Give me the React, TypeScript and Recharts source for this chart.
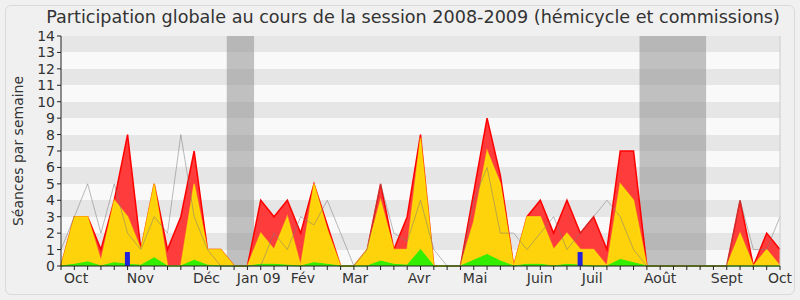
import {
  ComposedChart,
  Area,
  Line,
  Bar,
  XAxis,
  YAxis,
  CartesianGrid,
  ReferenceArea,
  ReferenceLine,
} from "recharts"

// one point per week, session 2008-2009
const weeks = [
  0, 1, 2, 3, 4, 5, 6, 7, 8, 9, 10, 11, 12, 13, 14, 15, 16, 17, 18, 19, 20, 21, 22, 23, 24, 25, 26, 27,
  28, 29, 30, 31, 32, 33, 34, 35, 36, 37, 38, 39, 40, 41, 42, 43, 44, 45, 46, 47, 48, 49, 50, 51, 52, 53, 54,
]

const presence = [
  0, 3, 3, 1, 4, 8, 1, 5, 1, 3, 7, 1, 1, 0, 0, 4, 3, 4, 2, 5, 2.5, 0, 0, 1, 5, 1, 3, 8,
  0, 0, 0, 4.5, 9, 5.5, 0, 3, 4, 2, 4, 2, 3, 1, 7, 7, 0, 0, 0, 0, 0, 0, 0, 4, 0, 2, 1,
]

const hemicycle = [
  0, 3, 3, 0.3, 4, 3, 1, 5, 0, 0, 5, 1, 1, 0, 0, 2, 1, 3, 0, 5, 2.2, 0, 0, 1, 4, 1, 1, 7.8,
  0, 0, 0, 2.7, 7, 5, 0, 3, 3, 1, 2, 1, 1, 0, 5, 4, 0, 0, 0, 0, 0, 0, 0, 2, 0, 1, 0,
]

const interventions = [
  0, 0.1, 0.25, 0, 0.2, 0.1, 0.05, 0.5, 0, 0, 0.35, 0.05, 0, 0, 0, 0.1, 0.1, 0.05, 0, 0.2, 0.1, 0, 0, 0, 0.3, 0.1, 0.05, 1,
  0, 0, 0, 0.35, 0.7, 0.3, 0, 0.1, 0.1, 0, 0.1, 0.05, 0, 0, 0.4, 0.2, 0, 0, 0, 0, 0, 0, 0, 0, 0, 0, 0,
]

const mediane = [
  1, 3, 5, 2, 5, 2, 1, 3, 2, 8, 3, 1, 0, 0, 0, 0, 2, 1, 3, 2.5, 4, 2, 0, 1, 5, 2, 1.5, 4,
  1, 0, 0, 4, 6, 2, 2, 1, 2, 3, 1, 2, 3, 4, 3, 1, 0, 0, 0, 0, 0, 0, 0, 4, 1, 1, 3,
]

const questions = [
  null, null, null, null, null, 0.85, null, null, null, null, null, null, null, null, null, null, null, null, null, null, null, null, null, null, null, null, null, null,
  null, null, null, null, null, null, null, null, null, null, null, 0.85, null, null, null, null, null, null, null, null, null, null, null, null, null, null, null,
]

const monthTicks = [1.13, 5.97, 10.93, 14.85, 18.17, 22.09, 26.9, 31.1, 35.95, 39.9, 45, 50, 54]
const monthLabels = ["Oct", "Nov", "Déc", "Jan 09", "Fév", "Mar", "Avr", "Mai", "Juin", "Juil", "Août", "Sept", "Oct"]

const yTicks = [0, 1, 2, 3, 4, 5, 6, 7, 8, 9, 10, 11, 12, 13, 14]

// vacances parlementaires
const breaks = [
  [12.45, 14.5],
  [43.45, 48.45],
]

const data = weeks.map((w, i) => ({
  w,
  presence: presence[i],
  hemicycle: hemicycle[i],
  interventions: interventions[i],
  mediane: mediane[i],
  questions: questions[i],
}))

const font = "'DejaVu Sans', Verdana, sans-serif"

export default function App() {
  return (
    <div
      style={{
        position: "absolute",
        left: 0,
        top: 0,
        width: 800,
        height: 300,
        background: "#f0f0f0",
        fontFamily: font,
        color: "#333",
      }}
    >
      <div
        style={{
          position: "absolute",
          left: 5,
          top: 5,
          width: 788,
          height: 288,
          border: "1px solid #d9d9d9",
          borderRadius: 6,
        }}
      />
      <div
        style={{
          position: "absolute",
          left: 0,
          top: 7,
          width: 826,
          textAlign: "center",
          fontSize: 17.6,
          whiteSpace: "nowrap",
        }}
      >
        Participation globale au cours de la session 2008-2009 (hémicycle et commissions)
      </div>
      <div
        style={{
          position: "absolute",
          left: 18 - 100,
          top: 151 - 10,
          width: 200,
          height: 20,
          lineHeight: "20px",
          textAlign: "center",
          fontSize: 14,
          transform: "rotate(-90deg)",
          whiteSpace: "nowrap",
        }}
      >
        Séances par semaine
      </div>

      <ComposedChart
        width={800}
        height={300}
        data={data}
        margin={{ top: 36, right: 20, bottom: 0, left: 0 }}
        style={{ position: "absolute", left: 0, top: 0, fontFamily: font }}
      >
        <CartesianGrid
          xAxisId="a"
          vertical={false}
          stroke="transparent"
          horizontalFill={["#e6e6e6", "#f9f9f9"]}
        />

        <XAxis
          xAxisId="a"
          dataKey="w"
          type="number"
          domain={[0, 54]}
          ticks={weeks}
          interval={0}
          height={5}
          tickSize={4}
          tickFormatter={() => ""}
          axisLine={{ stroke: "#222" }}
          tickLine={{ stroke: "#222" }}
        />
        <XAxis
          xAxisId="b"
          dataKey="w"
          type="number"
          domain={[0, 54]}
          ticks={monthTicks}
          interval={0}
          height={29}
          tickSize={0}
          axisLine={false}
          tickLine={false}
          tickFormatter={(v) => monthLabels[monthTicks.indexOf(v)] ?? ""}
          tick={{ fontSize: 14, fill: "#333" }}
        />
        <XAxis
          xAxisId="t"
          orientation="top"
          dataKey="w"
          type="number"
          domain={[0, 54]}
          ticks={weeks}
          interval={0}
          height={0}
          tickSize={2}
          axisLine={false}
          tickLine={{ stroke: "#222" }}
          tickFormatter={() => ""}
        />
        <YAxis
          domain={[0, 14]}
          ticks={yTicks}
          interval={0}
          width={61}
          tickSize={4}
          axisLine={{ stroke: "#222" }}
          tickLine={{ stroke: "#222" }}
          tick={{ fontSize: 14, fill: "#333" }}
        />

        {breaks.map(([a, b], i) => (
          <ReferenceArea
            key={i}
            xAxisId="a"
            x1={a}
            x2={b}
            y1={0}
            y2={14}
            fill="#888888"
            fillOpacity={0.5}
            stroke="none"
          />
        ))}

        <Area
          xAxisId="a"
          dataKey="presence"
          type="linear"
          stroke="#ff0000"
          strokeWidth={1.5}
          fill="#ff3c3c"
          fillOpacity={1}
          dot={false}
          activeDot={false}
          isAnimationActive={false}
        />
        <Area
          xAxisId="a"
          dataKey="hemicycle"
          type="linear"
          stroke="#ffee00"
          strokeOpacity={0.6}
          strokeWidth={1.5}
          fill="#ffd30b"
          fillOpacity={1}
          dot={false}
          activeDot={false}
          isAnimationActive={false}
        />
        <Area
          xAxisId="a"
          dataKey="interventions"
          type="linear"
          stroke="#33ee00"
          strokeWidth={1}
          fill="#33ee00"
          fillOpacity={1}
          dot={false}
          activeDot={false}
          isAnimationActive={false}
        />
        <Line
          xAxisId="a"
          dataKey="mediane"
          type="linear"
          stroke="#777777"
          strokeOpacity={0.5}
          strokeWidth={1}
          dot={false}
          activeDot={false}
          isAnimationActive={false}
        />
        <Bar
          xAxisId="a"
          dataKey="questions"
          fill="#2222dd"
          barSize={5}
          isAnimationActive={false}
        />
        <ReferenceLine xAxisId="a" x={54} stroke="#cccccc" />
      </ComposedChart>
    </div>
  )
}
